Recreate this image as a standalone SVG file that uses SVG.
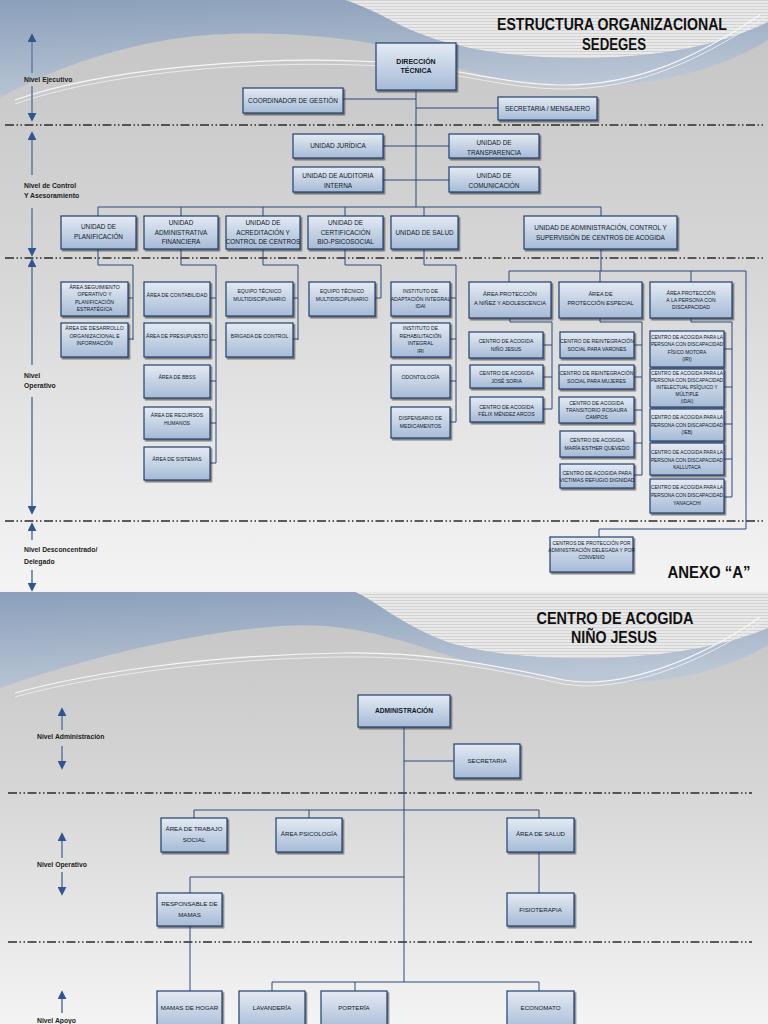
<svg xmlns="http://www.w3.org/2000/svg" width="768" height="1024" viewBox="0 0 768 1024">
<defs>
<linearGradient id="bg1" x1="0" y1="0" x2="0" y2="1"><stop offset="0" stop-color="#c4c4c4"/><stop offset="0.45" stop-color="#d6d6d6"/><stop offset="1" stop-color="#f4f4f4"/></linearGradient>
<linearGradient id="blue" x1="0" y1="0" x2="0.3" y2="1"><stop offset="0" stop-color="#8a9fba"/><stop offset="1" stop-color="#bcc7d6"/></linearGradient>
<linearGradient id="nodeG" x1="0" y1="0" x2="0" y2="1"><stop offset="0" stop-color="#e4eaf3"/><stop offset="1" stop-color="#a6bbd7"/></linearGradient>
<pattern id="stripes" width="6" height="3" patternUnits="userSpaceOnUse"><rect width="6" height="3" fill="#e9e9e9"/><rect width="6" height="1" fill="#d2d2d2"/></pattern>
<filter id="sh" x="-10%" y="-10%" width="130%" height="140%"><feDropShadow dx="1.5" dy="1.8" stdDeviation="0.7" flood-color="#2a2a2a" flood-opacity="0.6"/></filter>
<marker id="ah" viewBox="0 0 10 10" refX="8" refY="5" markerWidth="5" markerHeight="5" orient="auto-start-reverse"><path d="M0,0 L10,5 L0,10 Z" fill="#2f5691"/></marker>
<style>
.box{fill:url(#nodeG);stroke:#21406e;stroke-width:1.2;filter:url(#sh)}
.t{font-family:"Liberation Sans",Arial,sans-serif;fill:#121826;text-anchor:middle}
.s{font-size:5.1px}
.x{font-size:4.8px}
.m{font-size:6.4px}
.p{font-size:6.2px}
.lv{font-family:"Liberation Sans",Arial,sans-serif;font-weight:bold;fill:#1c1c1c;font-size:6.8px}
.lv2{font-family:"Liberation Sans",Arial,sans-serif;font-weight:bold;fill:#1c1c1c;font-size:6.8px}
.ttl{font-family:"Liberation Sans",Arial,sans-serif;font-weight:bold;fill:#111;font-size:16px;text-anchor:middle}
.cn{fill:none;stroke:#2a4a7a;stroke-width:1}
.dash{fill:none;stroke:#2b2b2b;stroke-width:1.3;stroke-dasharray:9,2.5,1.5,2.5,1.5,2.5}
.arr{fill:none;stroke:#7187aa;stroke-width:1.8;marker-end:url(#ah)}
</style>
</defs>

<!-- page 1 background -->
<rect x="0" y="0" width="768" height="589" fill="url(#bg1)"/>
<path d="M345,0 H768 V22 C720,45 660,58 580,58 C500,58 440,45 400,25 C380,14 360,5 345,0 Z" fill="url(#stripes)"/>
<path d="M0,0 H345 C360,5 380,14 400,25 C440,45 500,58 580,58 C660,58 720,45 768,22 V40 C720,70 650,88 570,86 C500,84 460,70 420,55 C360,35 250,28 180,38 C110,48 50,70 0,98 Z" fill="url(#blue)"/>
<path d="M15,100 C100,70 250,55 380,62 C450,66 500,84 560,85 C640,86 700,55 760,15" fill="none" stroke="#f4f6f8" stroke-width="1.2"/>
<path d="M15,104 C100,74 250,59 380,66 C450,70 500,88 560,89 C640,90 702,58 764,18" fill="none" stroke="#e8ebef" stroke-width="1"/>

<!-- page 2 background -->
<rect x="0" y="589" width="768" height="3" fill="#f2f2f2"/>
<rect x="0" y="592" width="768" height="432" fill="url(#bg1)"/>
<path d="M355,592 H768 V628 C740,640 700,650 650,655 C580,662 500,658 450,643 C400,625 375,600 355,592 Z" fill="url(#stripes)"/>
<path d="M0,592 H355 C375,600 400,625 450,643 C500,658 580,662 650,655 C700,650 740,640 768,628 V645 C730,668 680,682 620,682 C560,682 520,675 470,662 C420,648 360,620 280,626 C180,634 80,660 0,688 Z" fill="url(#blue)"/>
<path d="M15,693 C80,675 200,655 343,653 C420,652 480,662 564,680 C620,690 700,660 760,617" fill="none" stroke="#f4f6f8" stroke-width="1.2"/>
<path d="M15,697 C80,679 200,659 343,657 C420,656 480,666 564,684 C622,694 702,663 764,620" fill="none" stroke="#e8ebef" stroke-width="1"/>

<!-- titles -->
<text class="ttl" x="612" y="30" textLength="230" lengthAdjust="spacingAndGlyphs">ESTRUCTURA ORGANIZACIONAL</text>
<text class="ttl" x="614" y="50" textLength="64" lengthAdjust="spacingAndGlyphs">SEDEGES</text>
<text class="ttl" x="709" y="578" textLength="83" lengthAdjust="spacingAndGlyphs">ANEXO “A”</text>
<text class="ttl" x="615" y="624" textLength="157" lengthAdjust="spacingAndGlyphs">CENTRO DE ACOGIDA</text>
<text class="ttl" x="614" y="643" textLength="86" lengthAdjust="spacingAndGlyphs">NIÑO JESUS</text>

<!-- level separators -->
<g id="separators">
<path class="dash" d="M5,125 H763"/>
<path class="dash" d="M5,258 H763"/>
<path class="dash" d="M5,521 H763"/>
<path class="dash" d="M8,793 H752"/>
<path class="dash" d="M8,942 H752"/>
</g>

<!-- level labels -->
<g id="levels">
<path class="arr" d="M32,73 V35"/><path class="arr" d="M32,86 V120"/>
<text class="lv" x="24" y="82">Nivel Ejecutivo</text>
<path class="arr" d="M32,175 V133"/><path class="arr" d="M32,208 V255"/>
<text class="lv" x="24" y="188">Nivel de Control</text>
<text class="lv" x="24" y="198">Y Asesoramiento</text>
<path class="arr" d="M32,365 V260"/><path class="arr" d="M32,397 V513"/>
<text class="lv" x="24" y="378">Nivel</text>
<text class="lv" x="24" y="388">Operativo</text>
<path class="arr" d="M32,540 V524"/><path class="arr" d="M32,570 V590"/>
<text class="lv" x="24" y="552">Nivel Desconcentrado/</text>
<text class="lv" x="24" y="564">Delegado</text>
<path class="arr" d="M62,730 V709"/><path class="arr" d="M62,746 V768"/>
<text class="lv2" x="37" y="739">Nivel Administración</text>
<path class="arr" d="M62,858 V834"/><path class="arr" d="M62,872 V894"/>
<text class="lv2" x="37" y="867">Nivel Operativo</text>
<path class="arr" d="M62,1013 V992"/>
<text class="lv2" x="37" y="1023">Nivel Apoyo</text>
</g>

<!-- connectors -->
<g id="connectors">
<path class="cn" d="M416,90 V207 M343,99 H416 M416,108 H498 M383,146 H449 M383,180 H449"/>
<path class="cn" d="M98,207 H601 M98,207 V216 M181,207 V216 M263,207 V216 M345,207 V216 M424,207 V216 M601,207 V216"/>
<path class="cn" d="M98,249 V265 H133 V340 M128,298 H133 M128,339 H133"/>
<path class="cn" d="M181,249 V265 H216 V463 M210,298 H216 M210,340 H216 M210,381 H216 M210,423 H216 M210,463 H216"/>
<path class="cn" d="M263,249 V265 H298 V340 M293,298 H298 M293,339 H298"/>
<path class="cn" d="M345,249 V265 H381 V298 M375,298 H381"/>
<path class="cn" d="M424,249 V265 H456 V422 M450,298 H456 M450,339 H456 M450,381 H456 M450,422 H456"/>
<path class="cn" d="M601,249 V271 M509,271 H746 M509,271 V282 M600,271 V282 M691,271 V282 M746,271 V529 H599 V537"/>
<path class="cn" d="M510,318 V322 H552 V409 M543,345 H552 M543,377 H552 M543,409 H552"/>
<path class="cn" d="M600,318 V322 H642 V475 M634,345 H642 M634,377 H642 M634,410 H642 M634,443 H642 M634,475 H642"/>
<path class="cn" d="M691,318 V322 H732 V497 M724,349 H732 M724,387 H732 M724,424 H732 M724,459 H732 M724,497 H732"/>
<path class="cn" d="M404,727 V982 M404,761 H454 M194,810 H539 M194,810 V818 M309,810 V818 M539,810 V818 M539,852 V893 M404,877 H190 V893 M190,926 V991 M272,982 H539 M272,982 V991 M355,982 V991 M539,982 V991"/>
</g>

<!-- page 1 nodes -->
<g id="n_dir"><rect class="box" x="376" y="43" width="80" height="47"/><text class="t" style="font-size:7px;font-weight:bold"><tspan x="416" y="64">DIRECCIÓN</tspan><tspan x="416" y="73">TÉCNICA</tspan></text></g>
<g id="n_coord"><rect class="box" x="243" y="88" width="100" height="25"/><text class="t m" x="293" y="102.5">COORDINADOR DE GESTIÓN</text></g>
<g id="n_secr"><rect class="box" x="498" y="97" width="99" height="23"/><text class="t m" x="547.5" y="110.5">SECRETARIA / MENSAJERO</text></g>
<g id="n_jur"><rect class="box" x="293" y="134" width="90" height="24"/><text class="t m" x="338" y="148">UNIDAD JURÍDICA</text></g>
<g id="n_aud"><rect class="box" x="293" y="167" width="90" height="25"/><text class="t m"><tspan x="338" y="178">UNIDAD DE AUDITORIA</tspan><tspan x="338" y="187.5">INTERNA</tspan></text></g>
<g id="n_trans"><rect class="box" x="449" y="134" width="90" height="24"/><text class="t m"><tspan x="494" y="145">UNIDAD DE</tspan><tspan x="494" y="154.5">TRANSPARENCIA</tspan></text></g>
<g id="n_com"><rect class="box" x="449" y="167" width="90" height="25"/><text class="t m"><tspan x="494" y="178">UNIDAD DE</tspan><tspan x="494" y="187.5">COMUNICACIÓN</tspan></text></g>

<g id="n_plan"><rect class="box" x="61" y="216" width="75" height="33"/><text class="t m"><tspan x="98.5" y="229">UNIDAD DE</tspan><tspan x="98.5" y="239">PLANIFICACIÓN</tspan></text></g>
<g id="n_adm"><rect class="box" x="144" y="216" width="74" height="33"/><text class="t m"><tspan x="181" y="225">UNIDAD</tspan><tspan x="181" y="234.5">ADMINISTRATIVA</tspan><tspan x="181" y="244">FINANCIERA</tspan></text></g>
<g id="n_acr"><rect class="box" x="226" y="216" width="74" height="33"/><text class="t m"><tspan x="263" y="225">UNIDAD DE</tspan><tspan x="263" y="234.5">ACREDITACIÓN Y</tspan><tspan x="263" y="244">CONTROL DE CENTROS</tspan></text></g>
<g id="n_cert"><rect class="box" x="308" y="216" width="75" height="33"/><text class="t m"><tspan x="345.5" y="225">UNIDAD DE</tspan><tspan x="345.5" y="234.5">CERTIFICACIÓN</tspan><tspan x="345.5" y="244">BIO-PSICOSOCIAL</tspan></text></g>
<g id="n_sal"><rect class="box" x="391" y="216" width="67" height="33"/><text class="t m" x="424.5" y="235">UNIDAD DE SALUD</text></g>
<g id="n_uacs"><rect class="box" x="524" y="216" width="153" height="33"/><text class="t m"><tspan x="600.5" y="230">UNIDAD DE  ADMINISTRACIÓN, CONTROL Y</tspan><tspan x="600.5" y="240">SUPERVISIÓN DE CENTROS DE ACOGIDA</tspan></text></g>

<g id="n_p1"><rect class="box" x="61" y="282" width="67" height="34"/><text class="t s"><tspan x="94.5" y="289">ÁREA SEGUIMIENTO</tspan><tspan x="94.5" y="296">OPERATIVO Y</tspan><tspan x="94.5" y="303.5">PLANIFICACIÓN</tspan><tspan x="94.5" y="310.5">ESTRATÉGICA</tspan></text></g>
<g id="n_p2"><rect class="box" x="61" y="323" width="67" height="34"/><text class="t s"><tspan x="94.5" y="330">ÁREA DE DESARROLLO</tspan><tspan x="94.5" y="337.5">ORGANIZACIONAL E</tspan><tspan x="94.5" y="345">INFORMACIÓN</tspan></text></g>
<g id="n_a1"><rect class="box" x="144" y="282" width="66" height="34"/><text class="t s" x="177" y="297">ÁREA DE CONTABILIDAD</text></g>
<g id="n_a2"><rect class="box" x="144" y="323" width="66" height="34"/><text class="t s" x="177" y="338">ÁREA DE PRESUPUESTO</text></g>
<g id="n_a3"><rect class="box" x="144" y="365" width="66" height="33"/><text class="t s" x="177" y="379">ÁREA DE BBSS</text></g>
<g id="n_a4"><rect class="box" x="144" y="407" width="66" height="32"/><text class="t s"><tspan x="177" y="417">ÁREA DE RECURSOS</tspan><tspan x="177" y="424.5">HUMANOS</tspan></text></g>
<g id="n_a5"><rect class="box" x="144" y="447" width="66" height="33"/><text class="t s" x="177" y="461">ÁREA DE SISTEMAS</text></g>
<g id="n_c1"><rect class="box" x="226" y="282" width="67" height="34"/><text class="t s"><tspan x="259.5" y="293">EQUIPO TÉCNICO</tspan><tspan x="259.5" y="300.5">MULTIDISCIPLINARIO</tspan></text></g>
<g id="n_c2"><rect class="box" x="226" y="323" width="67" height="34"/><text class="t s" x="259.5" y="338">BRIGADA DE CONTROL</text></g>
<g id="n_b1"><rect class="box" x="309" y="282" width="66" height="34"/><text class="t s"><tspan x="342" y="293">EQUIPO TÉCNICO</tspan><tspan x="342" y="300.5">MULTIDISCIPLINARIO</tspan></text></g>
<g id="n_s1"><rect class="box" x="391" y="282" width="59" height="34"/><text class="t s"><tspan x="420.5" y="293">INSTITUTO DE</tspan><tspan x="420.5" y="300.5">ADAPTACIÓN INTEGRAL</tspan><tspan x="420.5" y="308">IDAI</tspan></text></g>
<g id="n_s2"><rect class="box" x="391" y="323" width="59" height="34"/><text class="t s"><tspan x="420.5" y="330">INSTITUTO DE</tspan><tspan x="420.5" y="337.5">REHABILITACIÓN</tspan><tspan x="420.5" y="345">INTEGRAL</tspan><tspan x="420.5" y="352.5">IRI</tspan></text></g>
<g id="n_s3"><rect class="box" x="391" y="365" width="59" height="33"/><text class="t s" x="420.5" y="379">ODONTOLOGÍA</text></g>
<g id="n_s4"><rect class="box" x="391" y="407" width="59" height="31"/><text class="t s"><tspan x="420.5" y="420">DISPENSARIO DE</tspan><tspan x="420.5" y="427.5">MEDICAMENTOS</tspan></text></g>

<g id="n_r1"><rect class="box" x="469" y="282" width="82" height="36"/><text class="t" style="font-size:5.6px"><tspan x="510" y="296">ÁREA  PROTECCIÓN</tspan><tspan x="510" y="305">A NIÑEZ Y ADOLESCENCIA</tspan></text></g>
<g id="n_r2"><rect class="box" x="559" y="282" width="83" height="36"/><text class="t" style="font-size:5.6px"><tspan x="600.5" y="296">ÁREA DE</tspan><tspan x="600.5" y="305">PROTECCIÓN ESPECIAL</tspan></text></g>
<g id="n_r3"><rect class="box" x="650" y="282" width="82" height="36"/><text class="t s"><tspan x="691" y="294.5">ÁREA PROTECCIÓN</tspan><tspan x="691" y="301.5">A LA PERSONA CON</tspan><tspan x="691" y="309">DISCAPACIDAD</tspan></text></g>
<g id="n_r1a"><rect class="box" x="469" y="332" width="74" height="26"/><text class="t s"><tspan x="506" y="343">CENTRO DE ACOGIDA</tspan><tspan x="506" y="350.5">NIÑO JESUS</tspan></text></g>
<g id="n_r1b"><rect class="box" x="470" y="365" width="73" height="23"/><text class="t s"><tspan x="506.5" y="375">CENTRO DE ACOGIDA</tspan><tspan x="506.5" y="382.5">JOSÉ SORIA</tspan></text></g>
<g id="n_r1c"><rect class="box" x="470" y="397" width="73" height="25"/><text class="t s"><tspan x="506.5" y="408.5">CENTRO DE ACOGIDA</tspan><tspan x="506.5" y="416">FÉLIX MÉNDEZ ARCOS</tspan></text></g>
<g id="n_r2a"><rect class="box" x="560" y="332" width="74" height="26"/><text class="t s"><tspan x="597" y="343">CENTRO DE REINTEGRACIÓN</tspan><tspan x="597" y="350.5">SOCIAL PARA VARONES</tspan></text></g>
<g id="n_r2b"><rect class="box" x="559" y="365" width="75" height="24"/><text class="t s"><tspan x="596.5" y="375">CENTRO DE REINTEGRACIÓN</tspan><tspan x="596.5" y="382.5">SOCIAL PARA MUJERES</tspan></text></g>
<g id="n_r2c"><rect class="box" x="559" y="397" width="75" height="26"/><text class="t s"><tspan x="596.5" y="405">CENTRO DE ACOGIDA</tspan><tspan x="596.5" y="412">TRANSITORIO ROSAURA</tspan><tspan x="596.5" y="419">CAMPOS</tspan></text></g>
<g id="n_r2d"><rect class="box" x="560" y="431" width="74" height="26"/><text class="t s"><tspan x="597" y="442">CENTRO DE ACOGIDA</tspan><tspan x="597" y="449.5">MARÍA ESTHER QUEVEDO</tspan></text></g>
<g id="n_r2e"><rect class="box" x="560" y="464" width="74" height="24"/><text class="t s"><tspan x="597" y="474.5">CENTRO DE ACOGIDA PARA</tspan><tspan x="597" y="482">VICTIMAS  REFUGIO DIGNIDAD</tspan></text></g>
<g id="n_r3a"><rect class="box" x="650" y="331" width="74" height="36"/><text class="t x"><tspan x="687" y="339">CENTRO DE ACOGIDA PARA LA</tspan><tspan x="687" y="346">PERSONA CON DISCAPACIDAD</tspan><tspan x="687" y="354">FÍSICO MOTORA</tspan><tspan x="687" y="361">(IRI)</tspan></text></g>
<g id="n_r3b"><rect class="box" x="650" y="369" width="74" height="38"/><text class="t x"><tspan x="687" y="375">CENTRO DE ACOGIDA PARA LA</tspan><tspan x="687" y="382">PERSONA CON DISCAPACIDAD</tspan><tspan x="687" y="389">INTELECTUAL PSÍQUICO Y</tspan><tspan x="687" y="396">MÚLTIPLE</tspan><tspan x="687" y="403">(IDAI)</tspan></text></g>
<g id="n_r3c"><rect class="box" x="650" y="409" width="74" height="32"/><text class="t x"><tspan x="687" y="419">CENTRO DE ACOGIDA PARA LA</tspan><tspan x="687" y="426.5">PERSONA CON DISCAPACIDAD</tspan><tspan x="687" y="434">(IEB)</tspan></text></g>
<g id="n_r3d"><rect class="box" x="650" y="443" width="74" height="32"/><text class="t x"><tspan x="687" y="454">CENTRO DE ACOGIDA PARA LA</tspan><tspan x="687" y="461.5">PERSONA CON DISCAPACIDAD</tspan><tspan x="687" y="469">KALLUTACA</tspan></text></g>
<g id="n_r3e"><rect class="box" x="650" y="479" width="74" height="34"/><text class="t x"><tspan x="687" y="489">CENTRO DE ACOGIDA PARA LA</tspan><tspan x="687" y="497">PERSONA CON DISCAPACIDAD</tspan><tspan x="687" y="505">YANACACHI</tspan></text></g>
<g id="n_cp"><rect class="box" x="550" y="537" width="83" height="35"/><text class="t" style="font-size:4.9px"><tspan x="591.5" y="545">CENTROS DE PROTECCIÓN POR</tspan><tspan x="591.5" y="552">ADMINISTRACIÓN DELEGADA Y POR</tspan><tspan x="591.5" y="559">CONVENIO</tspan></text></g>

<!-- page 2 nodes -->
<g id="m_adm"><rect class="box" x="358" y="695" width="92" height="32"/><text class="t" style="font-size:6.6px;font-weight:bold" x="404" y="713">ADMINISTRACIÓN</text></g>
<g id="m_sec"><rect class="box" x="454" y="744" width="66" height="34"/><text class="t p" x="487" y="763">SECRETARIA</text></g>
<g id="m_ts"><rect class="box" x="161" y="818" width="66" height="34"/><text class="t p"><tspan x="194" y="831">ÁREA DE TRABAJO</tspan><tspan x="194" y="842">SOCIAL</tspan></text></g>
<g id="m_ps"><rect class="box" x="276" y="818" width="66" height="34"/><text class="t p" x="309" y="836">ÁREA PSICOLOGÍA</text></g>
<g id="m_sa"><rect class="box" x="507" y="818" width="67" height="34"/><text class="t p" x="540.5" y="836">ÁREA DE SALUD</text></g>
<g id="m_rm"><rect class="box" x="157" y="893" width="65" height="33"/><text class="t p"><tspan x="189.5" y="906">RESPONSABLE DE</tspan><tspan x="189.5" y="917">MAMAS</tspan></text></g>
<g id="m_fi"><rect class="box" x="507" y="893" width="67" height="33"/><text class="t p" x="540.5" y="912">FISIOTERAPIA</text></g>
<g id="m_mh"><rect class="box" x="157" y="991" width="65" height="40"/><text class="t p" x="189.5" y="1010">MAMAS DE HOGAR</text></g>
<g id="m_la"><rect class="box" x="239" y="991" width="66" height="40"/><text class="t p" x="272" y="1010">LAVANDERÍA</text></g>
<g id="m_po"><rect class="box" x="321" y="991" width="66" height="40"/><text class="t p" x="354" y="1010">PORTERÍA</text></g>
<g id="m_ec"><rect class="box" x="507" y="991" width="67" height="40"/><text class="t p" x="540.5" y="1010">ECONOMATO</text></g>
</svg>
